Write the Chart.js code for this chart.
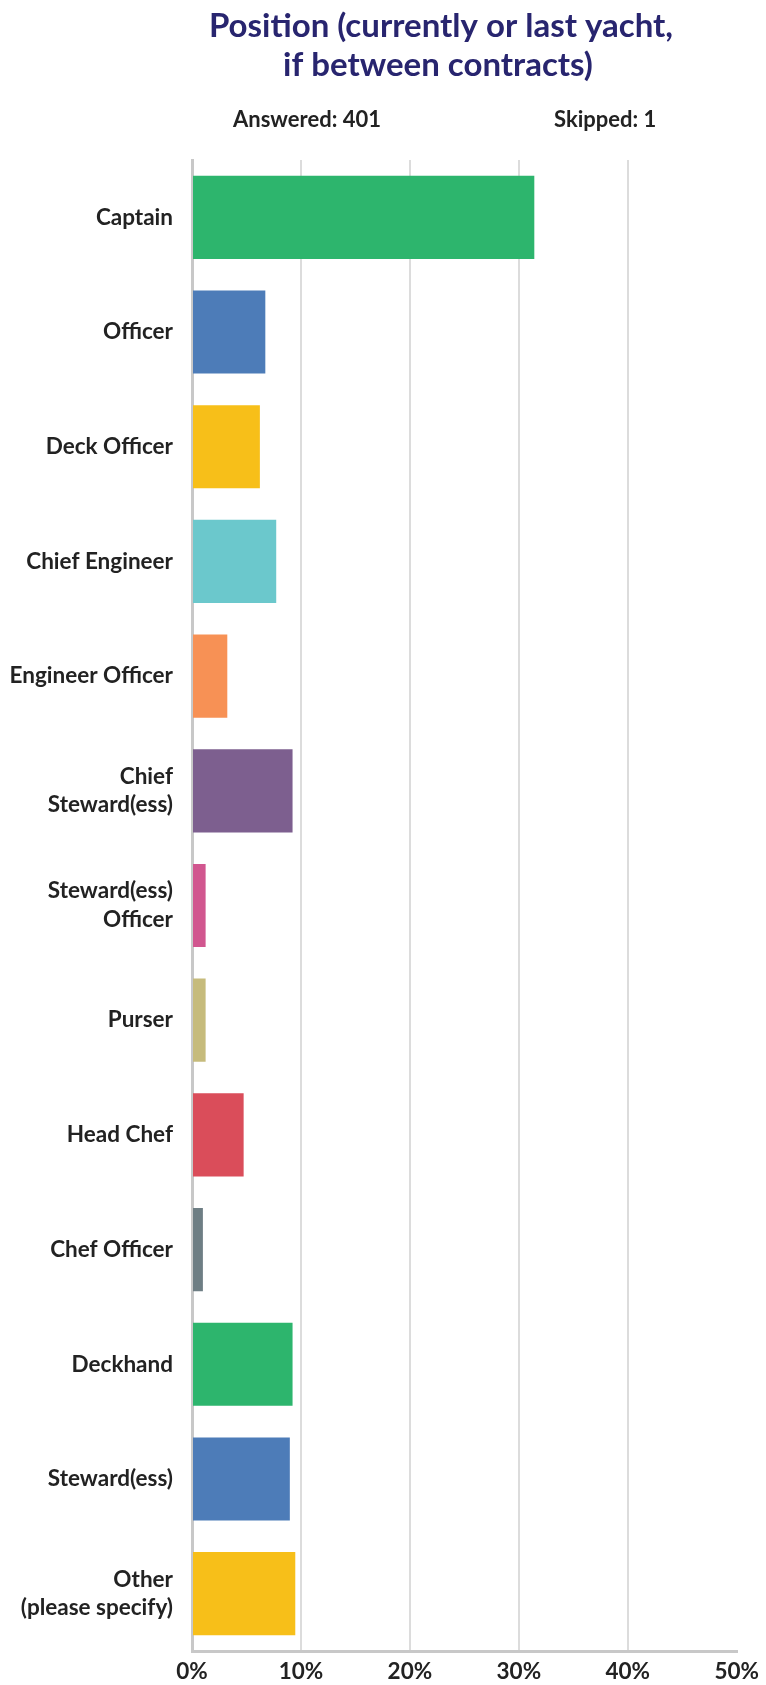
<!DOCTYPE html>
<html><head><meta charset="utf-8">
<script src="https://cdn.jsdelivr.net/npm/chart.js@4/dist/chart.umd.min.js"></script>
<style>html,body{margin:0;padding:0;background:#fff}#wrap{width:766px;height:1685px;position:relative}</style>
</head><body><div id="wrap"><canvas id="c" width="766" height="1685"></canvas></div>
<script>
const titleLines = ['Position (currently or last yacht,', 'if between contracts)'];
const answeredText = 'Answered: 401';
const skippedText = 'Skipped: 1';
const categories = ['Captain', 'Officer', 'Deck Officer', 'Chief Engineer', 'Engineer Officer',
  ['Chief', 'Steward(ess)'], ['Steward(ess)', 'Officer'], 'Purser', 'Head Chef', 'Chef Officer',
  'Deckhand', 'Steward(ess)', ['Other', '(please specify)']];
const values = [31.42, 6.73, 6.23, 7.73, 3.24, 9.23, 1.25, 1.25, 4.74, 1.00, 9.23, 8.98, 9.48];
const barColors = ['#2db56d', '#4d7cb8', '#f7bf19', '#6bc8cc', '#f79155', '#7d5f8f', '#d1568f',
  '#c6bb7c', '#da4d5a', '#6e7e84', '#2db56d', '#4d7cb8', '#f7bf19'];
const xTickValues = [0, 10, 20, 30, 40, 50];

const FONT = 'Lato, "Open Sans", sans-serif';

const headerPlugin = {
  id: 'header',
  afterDraw(chart) {
    const ctx = chart.ctx;
    ctx.save();
    ctx.fillStyle = '#28256f';
    ctx.font = 'bold 33px ' + FONT;
    ctx.textAlign = 'center';
    ctx.textBaseline = 'alphabetic';
    ctx.fillText(titleLines[0], 441, 37);
    ctx.fillText(titleLines[1], 438, 76);
    ctx.fillStyle = '#222222';
    ctx.font = 'bold 22px ' + FONT;
    ctx.textAlign = 'left';
    ctx.fillText(answeredText, 233, 127);
    ctx.fillText(skippedText, 554, 127);
    ctx.restore();
  }
};

new Chart(document.getElementById('c'), {
  type: 'bar',
  data: {
    labels: categories,
    datasets: [{
      data: values,
      backgroundColor: barColors,
      borderWidth: 0,
      barPercentage: 0.725,
      categoryPercentage: 1.0
    }]
  },
  options: {
    indexAxis: 'y',
    responsive: false,
    animation: false,
    devicePixelRatio: 1,
    layout: { padding: { top: 160, right: 28, bottom: 0, left: 0 } },
    plugins: { legend: { display: false }, tooltip: { enabled: false }, title: { display: false } },
    scales: {
      x: {
        min: 0, max: 50,
        afterBuildTicks(scale) { scale.ticks = xTickValues.map(v => ({ value: v })); },
        afterFit(scale) { scale.height = 34; },
        ticks: {
          callback: v => v + '%',
          font: { family: FONT, weight: 'bold', size: 22.5 },
          color: '#222222',
          padding: 7,
          maxRotation: 0,
          autoSkip: false
        },
        grid: {
          drawTicks: false,
          lineWidth: 2,
          color: c => (c.tick && (c.tick.value === 0 || c.tick.value === 50)) ? 'rgba(0,0,0,0)' : '#dcdcdc'
        },
        border: { color: '#c8c8c8', width: 3 }
      },
      y: {
        afterFit(scale) { scale.width = 192; },
        ticks: {
          font: { family: FONT, weight: 'bold', size: 22.5, lineHeight: 1.27 },
          color: '#222222',
          padding: 19,
          autoSkip: false
        },
        grid: { display: false, drawTicks: false },
        border: { color: '#c8c8c8', width: 3 }
      }
    }
  },
  plugins: [headerPlugin]
});
</script>
</body></html>
